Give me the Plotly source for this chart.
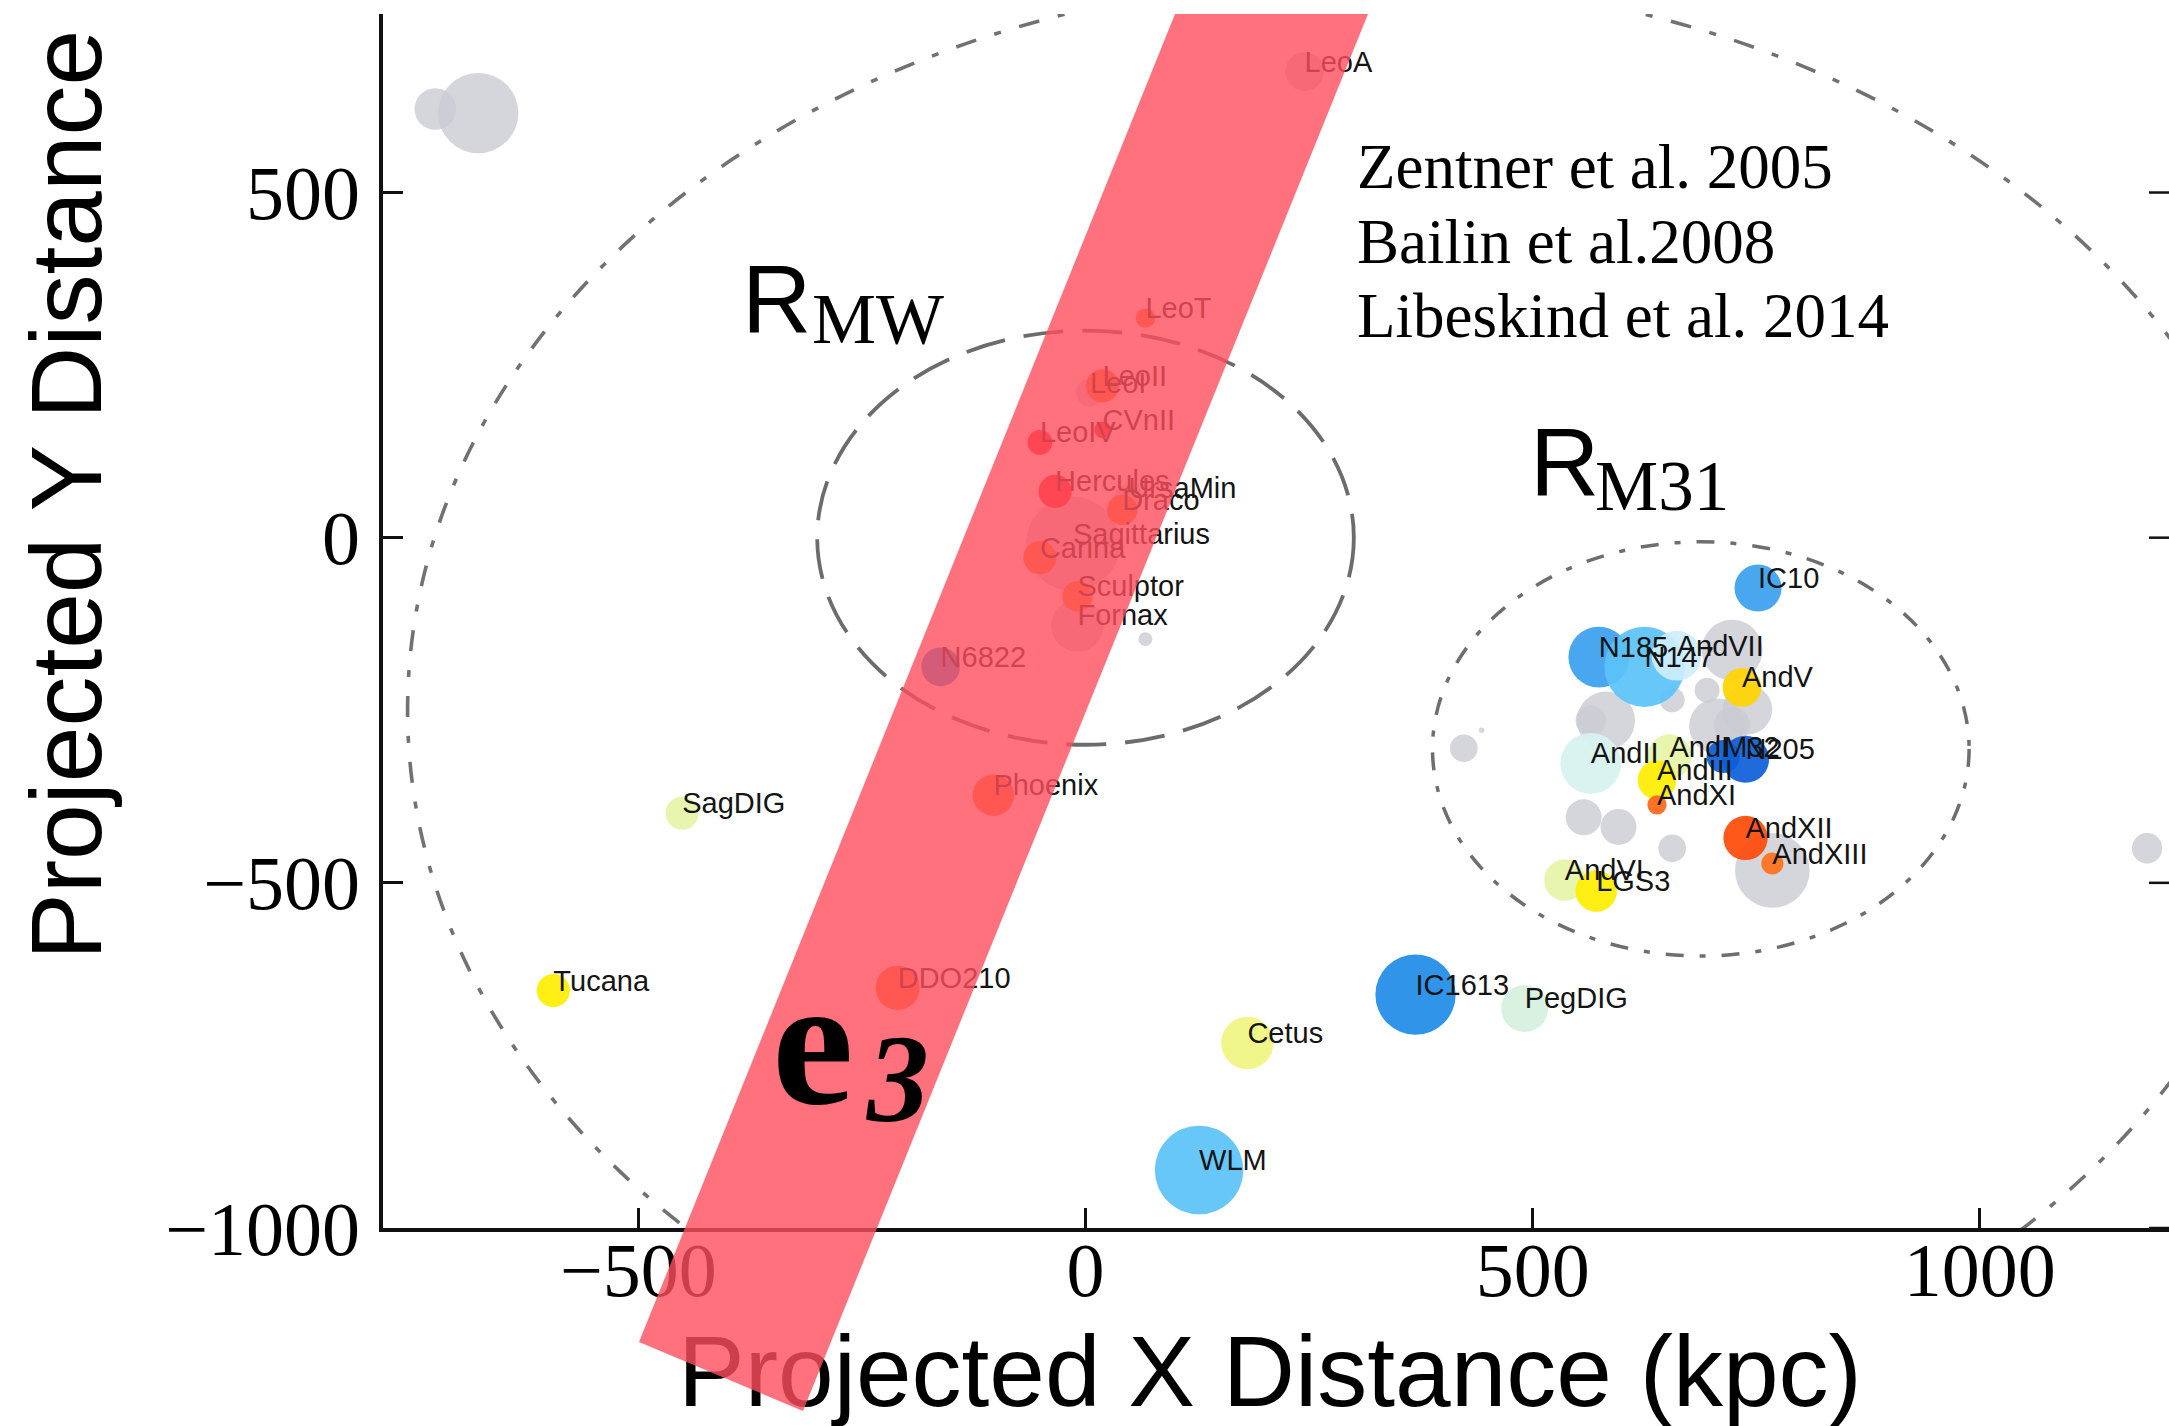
import plotly.graph_objects as go

W, H = 2169, 1426
SANS = "Liberation Sans, Arial, sans-serif"
SERIF = "Liberation Serif, Times New Roman, serif"

# ---- Local Group galaxies: projected positions (kpc), bubble size, colour index ----
names = ["LeoA", "LeoT", "LeoII", "LeoI", "CVnII", "LeoIV", "Hercules", "UrsaMin", "Draco",
         "Sagittarius", "Carina", "Sculptor", "Fornax", "N6822", "Phoenix", "SagDIG", "Tucana",
         "DDO210", "Cetus", "WLM", "IC1613", "PegDIG", "IC10", "N185", "N147", "AndVII", "AndV",
         "AndII", "AndI", "M32", "N205", "AndIII", "AndXI", "AndXII", "AndXIII", "AndVI", "LGS3"]
x_kpc = [245, 67, 19, 5, 19, -51, -34, 48, 41, -14,
         -51, -9, -9, -162, -103, -451, -595, -210, 181, 127,
         369, 491, 752, 574, 625, 661, 734, 565, 653, 713,
         738, 639, 639, 738, 768, 536, 571]
y_kpc = [675, 318, 220, 210, 156, 138, 67, 57, 40, -9,
         -29, -85, -127, -187, -373, -399, -656, -652, -732, -916,
         -662, -682, -73, -173, -187, -171, -217, -327, -317, -317,
         -321, -351, -387, -435, -472, -496, -512]
bubble = [14, 7, 12, 10, 6, 9, 12, 10, 11, 34,
          12, 11, 19, 14, 15, 12, 12, 16, 19, 32,
          29, 17, 17, 22, 29, 18, 14, 22, 16, 12,
          17, 14, 7, 16, 8, 15, 15]
# None = unclassified (drawn grey)
colour_idx = [None, 0.2, 0.2, None, 0.0, 0.0, 0.0, None, 0.2, None,
              0.2, 0.22, None, 0.93, 0.2, 0.6, 0.45, 0.2, 0.55, 0.84,
              0.93, 0.68, 0.9, 0.9, 0.84, 0.76, 0.38, 0.72, 0.6, 1.0,
              1.0, 0.45, 0.16, 0.1, 0.18, 0.6, 0.45]

# unlabelled field objects
field_x = [-727, -679, 67, 723, 695, 582, 565, 706, 740, 723, 656, 557, 596, 656, 768, 423, 443, 1187]
field_y = [621, 615, -147, -163, -221, -265, -265, -273, -249, -271, -235, -405, -419, -450, -482, -305, -279, -450]
field_bubble = [15, 29, 5, 22, 9, 21, 11, 20, 18, 13, 9, 13, 13, 10, 27, 10, 2, 11]

# virial-radius circles (centre x, centre y, radius) in kpc
r_mw = (0, 0, 300)
r_m31 = (688, -306, 300)
r_lg = (301, -250, 1059)

x_ticks = [-500, 0, 500, 1000]
y_ticks = [-1000, -500, 0, 500]
x_range = [-785.5, 1211.5]
y_range = [-1000, 758.6]

references = ["Zentner et al. 2005", "Bailin et al.2008", "Libeskind et al. 2014"]

# ---- plot-area geometry (pixels) ----
PL, PR, PT, PB = 383, W, 14, 1228
dom_x = [PL / W, PR / W]
dom_y = [(H - PB) / H, (H - PT) / H]
py_per_kpc = (PB - PT) / (y_range[1] - y_range[0])

colorscale = [[0.0, '#FF1A1A'], [0.1, '#FF4A08'], [0.2, '#FF7A1E'], [0.38, '#FFD400'],
              [0.45, '#FFEE00'], [0.55, '#F0F580'], [0.6, '#E6F4A8'], [0.68, '#D6F0DE'],
              [0.72, '#D6F3EF'], [0.76, '#CDEEFC'], [0.84, '#5BC2F8'], [0.9, '#3AA0EE'],
              [0.93, '#1E8CE6'], [1.0, '#0C5ED8']]
GREY = 'rgb(203,203,211)'
SIZEREF = 1 / 2.767

fig = go.Figure()

# field objects
fig.add_trace(go.Scatter(
    x=field_x, y=field_y, mode='markers', hoverinfo='skip', showlegend=False,
    marker=dict(size=field_bubble, sizemode='diameter', sizeref=SIZEREF,
                color=GREY, opacity=0.8, line=dict(width=0))))

grey_i = [i for i, c in enumerate(colour_idx) if c is None]
col_i = [i for i, c in enumerate(colour_idx) if c is not None]

fig.add_trace(go.Scatter(
    x=[x_kpc[i] for i in grey_i], y=[y_kpc[i] for i in grey_i], mode='markers',
    hoverinfo='skip', showlegend=False,
    marker=dict(size=[bubble[i] for i in grey_i], sizemode='diameter', sizeref=SIZEREF,
                color=GREY, opacity=0.8, line=dict(width=0))))

fig.add_trace(go.Scatter(
    x=[x_kpc[i] for i in col_i], y=[y_kpc[i] for i in col_i], mode='markers',
    hoverinfo='skip', showlegend=False,
    marker=dict(size=[bubble[i] for i in col_i], sizemode='diameter', sizeref=SIZEREF,
                color=[colour_idx[i] for i in col_i], colorscale=colorscale,
                cmin=0, cmax=1, showscale=False, opacity=0.92, line=dict(width=0))))

# galaxy names: baseline sits on the galaxy position
LABEL_FS = 29
fig.add_trace(go.Scatter(
    x=x_kpc, y=y_kpc, text=names, mode='text', textposition='top right',
    textfont=dict(family=SANS, size=LABEL_FS, color='#141414'),
    hoverinfo='skip', showlegend=False, xaxis='x2', yaxis='y2'))

# full-figure pixel layer: x title, then the e3 band on top of it
fig.add_trace(go.Scatter(
    x=[1270], y=[1381], text=["Projected X Distance (kpc)"], mode='text',
    textposition='middle center', textfont=dict(family=SANS, size=100, color='black'),
    hoverinfo='skip', showlegend=False, xaxis='x3', yaxis='y3'))

band_x = [1175, 1368, 803, 639, 1175]
band_y = [14, 14, 1411, 1342, 14]
fig.add_trace(go.Scatter(
    x=band_x, y=band_y, mode='lines', fill='toself', fillcolor='rgba(255,78,92,0.8)',
    line=dict(width=0), hoverinfo='skip', showlegend=False, xaxis='x3', yaxis='y3'))

# circles
def circle(c, dash, color, width):
    cx, cy, r = c
    return dict(type='circle', xref='x', yref='y', x0=cx - r, x1=cx + r, y0=cy - r, y1=cy + r,
                line=dict(color=color, width=width, dash=dash), layer='below')

shapes = [
    circle(r_lg, '21px,19px,7px,19px', '#727272', 3.6),
    circle(r_mw, '40px,19px', '#6c6c6c', 3.8),
    circle(r_m31, '18px,16px,6px,16px', '#6e6e6e', 3.5),
]
# mirrored ticks on the right edge
for yt in y_ticks:
    shapes.append(dict(type='line', xref='paper', yref='y', x0=1 - 20 / W, x1=1, y0=yt, y1=yt,
                       line=dict(color='#111', width=2.5), layer='above'))

def px_ann(text, x, y, size, family, xanchor='left', angle=0, color='black'):
    return dict(text=text, x=x / W, y=1 - y / H, xref='paper', yref='paper',
                xanchor=xanchor, yanchor='middle', showarrow=False, textangle=angle,
                font=dict(size=size, family=family, color=color))

def centre_from_baseline(baseline, size):
    return baseline - 0.34 * size

annotations = [
    px_ann("Projected Y Distance", 66, 495, 100, SANS, xanchor='center', angle=-90),
    px_ann("R", 740, centre_from_baseline(332, 96), 96, SANS),
    px_ann("MW", 810, centre_from_baseline(343, 72), 72, SERIF),
    px_ann("R", 1528, centre_from_baseline(495, 96), 96, SANS),
    px_ann("M31", 1593, centre_from_baseline(510, 71), 71, SERIF),
    px_ann("<b>e</b>", 770, centre_from_baseline(1104, 184), 184, SERIF),
    px_ann("<b><i>3</i></b>", 864, centre_from_baseline(1122, 124), 124, SERIF),
]
for ref, base in zip(references, [188, 263, 337]):
    annotations.append(px_ann(ref, 1355, centre_from_baseline(base, 63), 63, SERIF))

axis_common = dict(showgrid=False, zeroline=False, showline=True, linecolor='#111',
                   linewidth=3.5, ticks='inside', ticklen=20, tickwidth=2.5, tickcolor='#111',
                   automargin=False, tickfont=dict(family=SERIF, size=76, color='black'))
hidden = dict(visible=False, showgrid=False, zeroline=False, automargin=False)

label_shift = 0.25 * LABEL_FS / py_per_kpc

fig.update_layout(
    width=W, height=H, margin=dict(l=0, r=0, t=0, b=0, pad=0, autoexpand=False),
    paper_bgcolor='white', plot_bgcolor='rgba(0,0,0,0)',
    xaxis=dict(domain=dom_x, range=x_range, tickvals=x_ticks, ticklabelstandoff=-27, **axis_common),
    yaxis=dict(domain=dom_y, range=y_range, tickvals=y_ticks, ticklabelstandoff=4, **axis_common),
    xaxis2=dict(domain=dom_x, range=x_range, anchor='y2', **hidden),
    yaxis2=dict(domain=dom_y, range=[y_range[0] + label_shift, y_range[1] + label_shift],
                anchor='x2', **hidden),
    xaxis3=dict(domain=[0, 1], range=[0, W], anchor='y3', **hidden),
    yaxis3=dict(domain=[0, 1], range=[H, 0], anchor='x3', **hidden),
    shapes=shapes, annotations=annotations, showlegend=False, hovermode=False,
)

fig.write_html("out.html")
